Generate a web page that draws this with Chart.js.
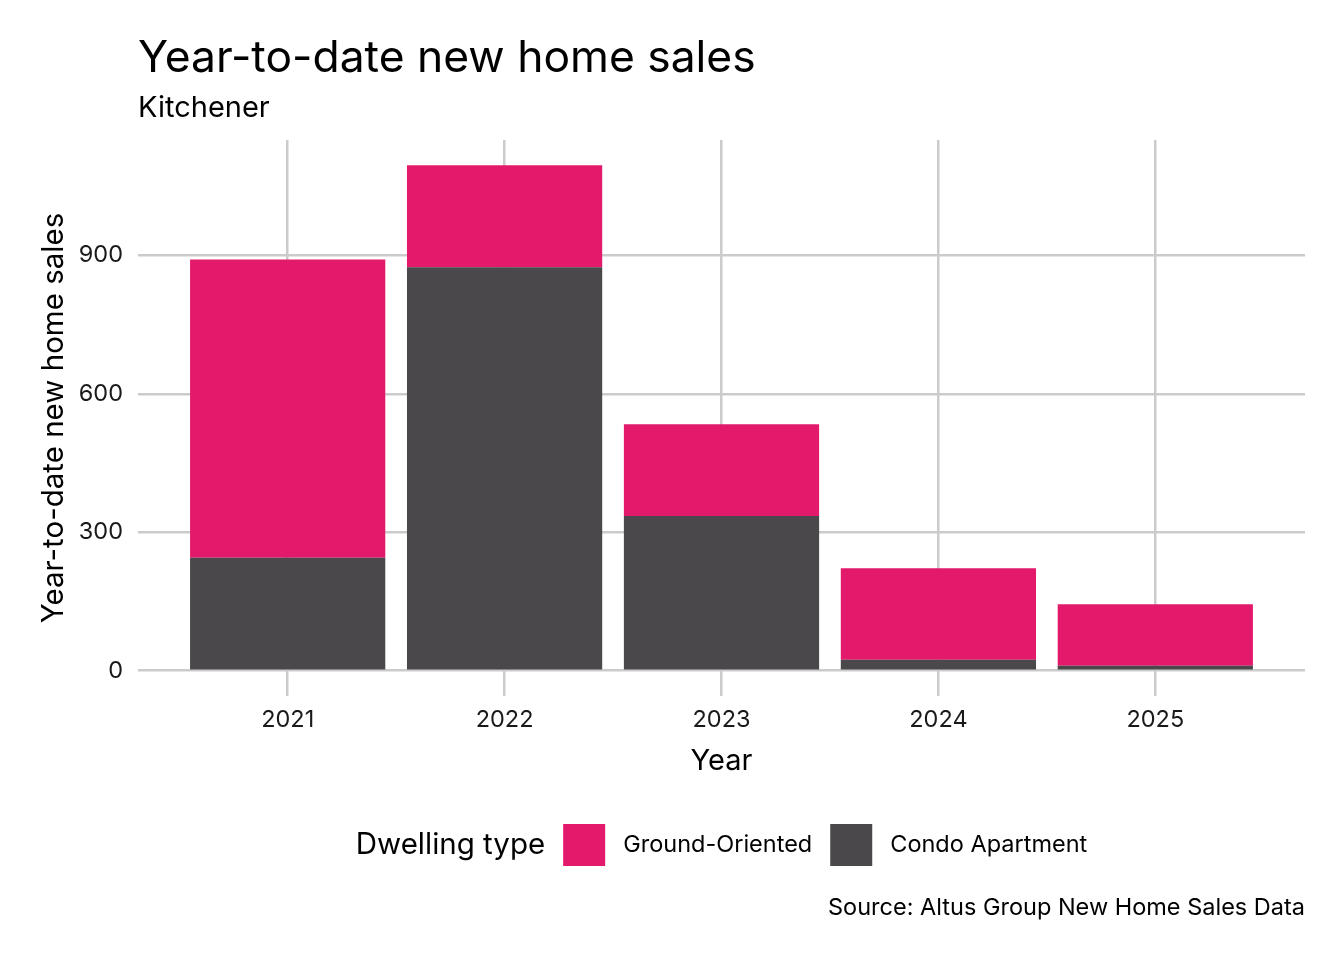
<!DOCTYPE html>
<html>
<head>
<meta charset="utf-8">
<script src="https://cdn.jsdelivr.net/npm/chart.js@4.4.1/dist/chart.umd.min.js"></script>
<style>
  html, body { margin: 0; padding: 0; background: #ffffff; }
  canvas { display: block; }
</style>
</head>
<body>
<canvas id="salesChart" width="1344" height="960"></canvas>
<script>
// values
var years = ["2021", "2022", "2023", "2024", "2025"];
var condoSales = [245, 874, 335, 24, 11];
var groundSales = [646, 221, 199, 198, 133];
var yTicks = [0, 300, 600, 900];
var seriesNames = ["Ground-Oriented", "Condo Apartment"];
var seriesColors = ["#E31A6B", "#4A484B"];

var titleText = "Year-to-date new home sales";
var subtitleText = "Kitchener";
var captionText = "Source: Altus Group New Home Sales Data";
var legendTitle = "Dwelling type";

var fontFamily = "Inter, 'Noto Sans', sans-serif";

function points(values) {
    return values.map(function (v, i) { return { x: i + 1, y: v }; });
}

// title, subtitle, legend and caption
var annotations = {
    id: 'annotations',
    afterDraw: function (chart) {
        var ctx = chart.ctx;
        var area = chart.chartArea;
        ctx.save();
        ctx.fillStyle = '#000000';
        ctx.textAlign = 'left';
        ctx.textBaseline = 'alphabetic';
        ctx.font = '44.4px ' + fontFamily;
        ctx.fillText(titleText, area.left, 72);
        ctx.font = '29px ' + fontFamily;
        ctx.fillText(subtitleText, area.left, 117);

        // legend: title, then box + label for each series
        var gap = 18, box = 42, cy = 845;
        ctx.font = '29.5px ' + fontFamily;
        var titleW = ctx.measureText(legendTitle).width;
        ctx.font = '23.5px ' + fontFamily;
        var labelW = seriesNames.map(function (n) { return ctx.measureText(n).width; });
        var total = titleW;
        labelW.forEach(function (w) { total += gap + box + gap + w; });
        var x = (area.left + area.right) / 2 - total / 2;
        ctx.textBaseline = 'middle';
        ctx.font = '29.5px ' + fontFamily;
        ctx.fillText(legendTitle, x, cy);
        x += titleW;
        ctx.font = '23.5px ' + fontFamily;
        seriesNames.forEach(function (n, i) {
            x += gap;
            ctx.fillStyle = seriesColors[i];
            ctx.fillRect(x, cy - box / 2, box, box);
            x += box + gap;
            ctx.fillStyle = '#000000';
            ctx.fillText(n, x, cy);
            x += labelW[i];
        });

        ctx.textAlign = 'right';
        ctx.font = '23.5px ' + fontFamily;
        ctx.fillText(captionText, area.right, 908);
        ctx.restore();
    }
};

var ctx = document.getElementById("salesChart");
var salesChart = new Chart(ctx, {
    type: 'bar',
    data: {
        datasets: [{
            label: seriesNames[1],
            data: points(condoSales),
            backgroundColor: seriesColors[1],
            borderWidth: 0
        }, {
            label: seriesNames[0],
            data: points(groundSales),
            backgroundColor: seriesColors[0],
            borderWidth: 0
        }]
    },
    options: {
        responsive: false,
        animation: false,
        events: [],
        layout: {
            padding: { top: 140, left: 0, right: 39, bottom: 180 }
        },
        datasets: {
            bar: { barPercentage: 0.9, categoryPercentage: 1 }
        },
        plugins: {
            legend: { display: false },
            title: { display: false },
            tooltip: { enabled: false }
        },
        scales: {
            x: {
                type: 'linear',
                stacked: true,
                offset: false,
                min: 0.31,
                max: 5.69,
                afterFit: function (scale) { scale.height = 84; },
                afterBuildTicks: function (scale) {
                    scale.ticks = years.map(function (y, i) { return { value: i + 1 }; });
                },
                border: { display: false },
                grid: { color: '#CBCBCB', lineWidth: 2.5, drawTicks: false, offset: false },
                ticks: {
                    padding: 10,
                    color: '#1A1A1A',
                    font: { family: fontFamily, size: 23.5 },
                    callback: function (v) { return years[v - 1]; }
                },
                title: {
                    display: true,
                    text: 'Year',
                    color: '#000000',
                    font: { family: fontFamily, size: 29 },
                    padding: { top: 0, bottom: 1 }
                }
            },
            y: {
                stacked: true,
                min: -54.75,
                max: 1149.75,
                afterFit: function (scale) { scale.width = 138; },
                afterBuildTicks: function (scale) {
                    scale.ticks = yTicks.map(function (v) { return { value: v }; });
                },
                border: { display: false },
                grid: { color: '#CBCBCB', lineWidth: 2.5, drawTicks: false },
                ticks: {
                    padding: 15,
                    color: '#1A1A1A',
                    font: { family: fontFamily, size: 23.5 }
                },
                title: {
                    display: true,
                    text: 'Year-to-date new home sales',
                    color: '#000000',
                    font: { family: fontFamily, size: 29.5 },
                    padding: { top: 36, bottom: 0 }
                }
            }
        }
    },
    plugins: [annotations]
});
</script>
</body>
</html>
